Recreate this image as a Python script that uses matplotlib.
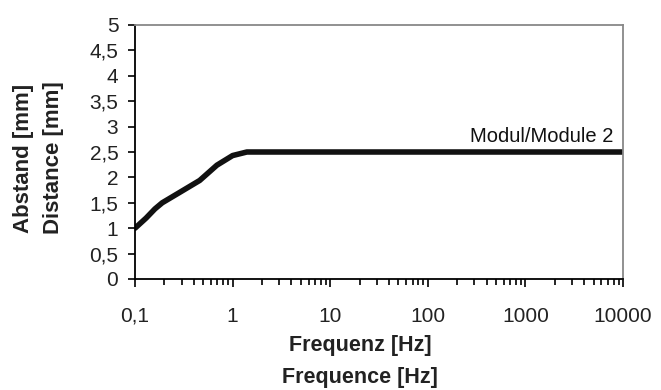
import matplotlib
matplotlib.use('Agg')
import matplotlib.pyplot as plt
from matplotlib.ticker import FixedLocator, LogLocator, NullFormatter
import numpy as np

plt.rcParams['font.family'] = ['Liberation Sans', 'DejaVu Sans']

# curve
freq = [0.1, 0.13, 0.16, 0.19, 0.29, 0.46, 0.69, 1.0, 1.4, 10000]
dist = [1.0, 1.2, 1.38, 1.5, 1.71, 1.94, 2.24, 2.43, 2.5, 2.5]

xticks = [0.1, 1, 10, 100, 1000, 10000]
xlabels = ['0,1', '1', '10', '100', '1000', '10000']
yticks = np.arange(0, 5.01, 0.5)
ylabels = ['0', '0,5', '1', '1,5', '2', '2,5', '3', '3,5', '4', '4,5', '5']

fig = plt.figure(figsize=(6.61, 3.90), dpi=100)
ax = fig.add_axes([135/661, 1 - 279/390, (623 - 135)/661, (279 - 25)/390])

ax.plot(freq, dist, color='#111111', lw=4, solid_capstyle='round', solid_joinstyle='round')

ax.set_xscale('log')
ax.set_xlim(0.1, 10000)
ax.set_ylim(0, 5)
ax.xaxis.set_major_locator(FixedLocator(xticks))
ax.set_xticklabels(xlabels)
ax.xaxis.set_minor_locator(LogLocator(base=10, subs=np.arange(2, 10)))
ax.xaxis.set_minor_formatter(NullFormatter())
ax.set_yticks(yticks)
ax.set_yticklabels(ylabels)

ax.tick_params(axis='both', direction='out', labelsize=15, color='black', width=1.2,
               labelcolor='#222222')
ax.tick_params(axis='x', which='major', length=6, pad=14)
ax.tick_params(axis='x', which='minor', length=4, width=1.2)
ax.tick_params(axis='y', length=5, pad=7)

for s in ['left', 'bottom']:
    ax.spines[s].set_color('black')
    ax.spines[s].set_linewidth(1.3)
for s in ['top', 'right']:
    ax.spines[s].set_color('#888888')
    ax.spines[s].set_linewidth(1.3)

ax.text(0.98, 2.62, 'Modul/Module 2', transform=ax.get_yaxis_transform(),
        ha='right', va='bottom', fontsize=14.5, color='#111111')

fig.text(24/661, 1 - 158/390, 'Abstand [mm]', rotation=90, ha='center', va='center',
         fontsize=16, fontweight='bold', color='#222222')
fig.text(54/661, 1 - 158/390, 'Distance [mm]', rotation=90, ha='center', va='center',
         fontsize=16, fontweight='bold', color='#222222')
fig.text(360/661, 1 - 346/390, 'Frequenz [Hz]', ha='center', va='center',
         fontsize=15.5, fontweight='bold', color='#222222')
fig.text(360/661, 1 - 377/390, 'Frequence [Hz]', ha='center', va='center',
         fontsize=15.5, fontweight='bold', color='#222222')

fig.savefig('out.png', dpi=100, facecolor='white')
